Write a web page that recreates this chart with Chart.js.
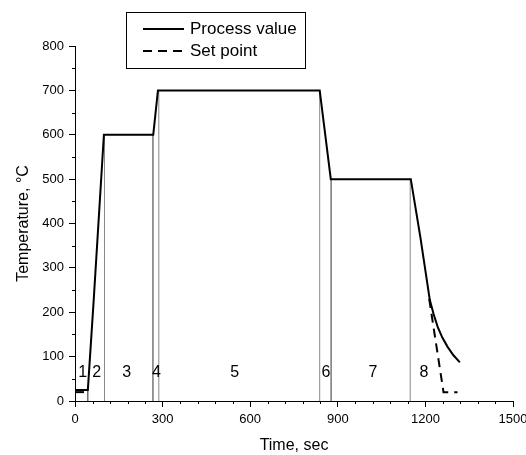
<!DOCTYPE html>
<html>
<head>
<meta charset="utf-8">
<script src="https://cdn.jsdelivr.net/npm/chart.js@4/dist/chart.umd.min.js"></script>
<style>
  html, body { margin: 0; padding: 0; background: #fff; }
  #wrap { width: 526px; height: 455px; position: relative; }
</style>
</head>
<body>
<div id="wrap"><canvas id="chart"></canvas></div>
<script>
// Heating program: measured furnace temperature vs. programmed set point
const pvTime = [0, 44, 64, 99, 104, 268, 284, 838, 876, 1150, 1183, 1215, 1228, 1242, 1258, 1276, 1296, 1318];
const pvTemp = [25, 25, 227, 600, 600, 600, 700, 700, 500, 500, 368, 228, 196, 167, 143, 122, 103, 87];

const spTime = [0, 44, 99, 268, 284, 838, 876, 1150, 1213, 1262, 1310];
const spTemp = [20, 20, 600, 600, 700, 700, 500, 500, 230, 20, 20];
// set point segments that run under the process curve are not stroked
const spHiddenFrom = 1, spHiddenTo = 7;

// Stage boundaries (thin vertical lines from the axis up to the curve)
const stageTime = [44, 101, 267, 287, 838, 877, 1148];
const stageTop = [25, 600, 600, 700, 700, 500, 500];
const stageShade = ["#222", "#888", "#333", "#888", "#888", "#333", "#888"];

// Stage numbers
const zoneNames = ["1", "2", "3", "4", "5", "6", "7", "8"];
const zoneTime = [26, 74, 177, 279, 547, 859, 1020, 1195];
const zoneLevel = 65;

const xTicks = [0, 300, 600, 900, 1200, 1500];
const yTicks = [0, 100, 200, 300, 400, 500, 600, 700, 800];

const FONT = "'Liberation Sans', Arial, sans-serif";

const toPoints = (xs, ys) => xs.map((x, i) => ({ x, y: ys[i] }));

const datasets = [
  {
    label: "Process value",
    data: toPoints(pvTime, pvTemp),
    borderColor: "#000",
    borderWidth: 2,
    pointRadius: 0,
    tension: 0,
    fill: false,
  },
  {
    label: "Set point",
    data: toPoints(spTime, spTemp),
    borderColor: "#000",
    borderWidth: 2,
    borderDash: [9, 6],
    pointRadius: 0,
    tension: 0,
    fill: false,
    segment: {
      borderColor: (c) =>
        c.p0DataIndex >= spHiddenFrom && c.p0DataIndex <= spHiddenTo ? "rgba(0,0,0,0)" : "#000",
    },
  },
];

stageTime.forEach((t, i) => {
  datasets.push({
    label: "stage" + (i + 1),
    data: [{ x: t, y: 0 }, { x: t, y: stageTop[i] }],
    borderColor: stageShade[i],
    borderWidth: 1,
    pointRadius: 0,
    fill: false,
  });
});

// Minor ticks, x tick labels, stage numbers and the boxed legend
const extras = {
  id: "extras",
  afterDraw(chart) {
    const { ctx, scales } = chart;
    const xs = scales.x, ys = scales.y;
    ctx.save();
    ctx.strokeStyle = "#000";
    ctx.lineWidth = 1;

    // minor ticks
    ctx.beginPath();
    for (let t = 60; t < 1500; t += 60) {
      if (t % 300 === 0) continue;
      const px = Math.round(xs.getPixelForValue(t)) + 0.5;
      ctx.moveTo(px, ys.bottom);
      ctx.lineTo(px, ys.bottom + 3);
    }
    for (let v = 50; v < 800; v += 100) {
      const py = Math.round(ys.getPixelForValue(v)) + 0.5;
      ctx.moveTo(xs.left, py);
      ctx.lineTo(xs.left - 3, py);
    }
    ctx.stroke();

    // x tick labels (drawn here so the last one may overhang the edge)
    ctx.fillStyle = "#000";
    ctx.font = "13px " + FONT;
    ctx.textAlign = "center";
    ctx.textBaseline = "top";
    xTicks.forEach((v) => {
      ctx.fillText(String(v), xs.getPixelForValue(v), ys.bottom + 12);
    });

    // stage numbers
    ctx.font = "16px " + FONT;
    ctx.textBaseline = "middle";
    zoneNames.forEach((n, i) => {
      ctx.fillText(n, xs.getPixelForValue(zoneTime[i]), ys.getPixelForValue(zoneLevel));
    });

    // legend
    const bx = 126.5, by = 12.5, bw = 179, bh = 56;
    ctx.strokeRect(bx, by, bw, bh);
    ctx.font = "17px " + FONT;
    ctx.textAlign = "left";
    [0, 1].forEach((k) => {
      const ds = chart.data.datasets[k];
      const y = 29 + k * 22;
      ctx.beginPath();
      ctx.lineWidth = 2;
      ctx.setLineDash(ds.borderDash || []);
      ctx.moveTo(143, y);
      ctx.lineTo(184, y);
      ctx.stroke();
      ctx.setLineDash([]);
      ctx.fillText(ds.label, 190, y);
    });
    ctx.restore();
  },
};

new Chart(document.getElementById("chart"), {
  type: "line",
  data: { datasets },
  options: {
    responsive: true,
    maintainAspectRatio: false,
    animation: false,
    layout: { padding: { top: 46, left: 0, right: 13, bottom: 0 } },
    plugins: {
      legend: { display: false },
      tooltip: { enabled: false },
    },
    scales: {
      x: {
        type: "linear",
        min: 0,
        max: 1500,
        afterFit: (s) => { s.height = 54; },
        afterBuildTicks: (s) => { s.ticks = xTicks.map((v) => ({ value: v })); },
        ticks: { display: false },
        grid: { drawOnChartArea: false, tickLength: 6, tickColor: "#000" },
        border: { color: "#000", width: 1 },
        title: {
          display: true,
          text: "Time, sec",
          color: "#000",
          font: { family: FONT, size: 16 },
          padding: { top: 0, bottom: 0 },
        },
      },
      y: {
        min: 0,
        max: 800,
        afterFit: (s) => { s.width = 75; },
        afterBuildTicks: (s) => { s.ticks = yTicks.map((v) => ({ value: v })); },
        ticks: {
          color: "#000",
          font: { family: FONT, size: 13 },
          padding: 5,
          callback: (v) => String(v),
        },
        grid: { drawOnChartArea: false, tickLength: 6, tickColor: "#000" },
        border: { color: "#000", width: 1 },
        title: {
          display: true,
          text: "Temperature, °C",
          color: "#000",
          font: { family: FONT, size: 16 },
          padding: { top: 14, bottom: 0 },
        },
      },
    },
  },
  plugins: [extras],
});
</script>
</body>
</html>
